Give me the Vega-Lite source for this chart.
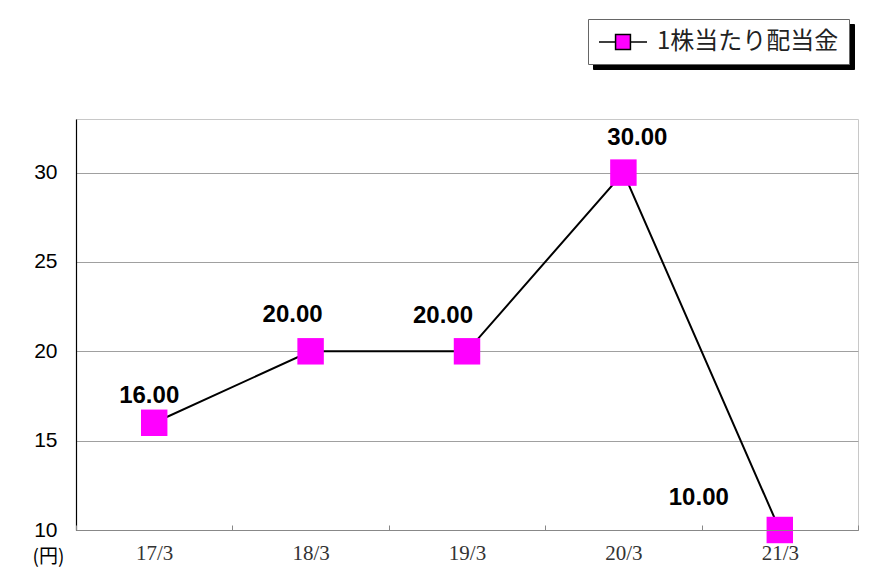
{
  "$schema": "https://vega.github.io/schema/vega-lite/v6.json",
  "width": 782,
  "height": 411,
  "autosize": "none",
  "padding": {"left": 76, "top": 119, "right": 21, "bottom": 42},
  "background": "white",
  "config": {
    "view": {"stroke": "#c8c8c8", "strokeWidth": 1},
    "font": "Liberation Sans"
  },
  "data": {
    "values": [
      {"year": "17/3", "value": 16, "label": "16.00", "series": "1株当たり配当金"},
      {"year": "18/3", "value": 20, "label": "20.00", "series": "1株当たり配当金"},
      {"year": "19/3", "value": 20, "label": "20.00", "series": "1株当たり配当金"},
      {"year": "20/3", "value": 30, "label": "30.00", "series": "1株当たり配当金"},
      {"year": "21/3", "value": 10, "label": "10.00", "series": "1株当たり配当金"}
    ]
  },
  "encoding": {
    "x": {
      "field": "year",
      "type": "ordinal",
      "sort": null,
      "scale": {"type": "band", "paddingInner": 0, "paddingOuter": 0},
      "axis": {
        "title": null,
        "labelAngle": 0,
        "labelFont": "Liberation Serif",
        "labelFontSize": 21,
        "labelColor": "#333333",
        "labelPadding": 17,
        "domainColor": "#888888",
        "domainWidth": 1,
        "ticks": true,
        "tickBand": "extent",
        "tickSize": -5,
        "tickColor": "#888888",
        "grid": false,
        "zindex": 1
      }
    },
    "y": {
      "field": "value",
      "type": "quantitative",
      "scale": {"domain": [10, 33], "nice": false, "zero": false},
      "axis": {
        "values": [10, 15, 20, 25, 30],
        "title": "(円)",
        "titleAngle": 0,
        "titleX": -28,
        "titleY": 437,
        "titleAlign": "center",
        "titleBaseline": "middle",
        "titleFont": "Noto Sans CJK JP",
        "titleFontSize": 19,
        "titleFontWeight": "normal",
        "titleColor": "black",
        "labelFont": "Liberation Sans",
        "labelFontSize": 21,
        "labelColor": "black",
        "labelPadding": 19,
        "ticks": false,
        "domainColor": "black",
        "domainWidth": 1.2,
        "grid": true,
        "gridColor": "#a0a0a0",
        "gridWidth": 1
      }
    }
  },
  "layer": [
    {
      "mark": {"type": "line", "color": "black", "strokeWidth": 2}
    },
    {
      "mark": {"type": "point", "shape": "square", "filled": true, "size": 700, "opacity": 1},
      "encoding": {
        "color": {
          "field": "series",
          "type": "nominal",
          "scale": {"range": ["#ff00ff"]},
          "legend": {
            "title": null,
            "orient": "none",
            "legendX": 512,
            "legendY": -100,
            "zindex": 2,
            "padding": 10,
            "fillColor": "white",
            "strokeColor": "#666666",
            "cornerRadius": 0,
            "symbolType": "M-1,0H0.38M1.62,0H3M0.38,-0.62H1.62V0.62H0.38Z",
            "symbolSize": 576,
            "symbolFillColor": "#ff00ff",
            "symbolStrokeColor": "black",
            "symbolStrokeWidth": 1.5,
            "labelFont": "Noto Sans CJK JP",
            "labelFontSize": 24,
            "labelColor": "#222222",
            "labelOffset": 33,
            "labelLimit": 400,
            "encode": {
              "symbols": {"update": {"fill": {"value": "#ff00ff"}, "stroke": {"value": "black"}, "strokeWidth": {"value": 1.5}, "size": {"value": 576}, "opacity": {"value": 1}}}
            }
          }
        }
      }
    },
    {
      "transform": [{"filter": "datum.year === '17/3'"}],
      "mark": {"type": "text", "font": "Liberation Sans", "fontWeight": "bold", "fontSize": 24, "align": "center", "baseline": "middle", "dx": -5, "dy": -27, "color": "black"},
      "encoding": {
        "text": {"field": "label"},
        "opacity": {
          "field": "year",
          "type": "ordinal",
          "scale": {"range": [1, 1]},
          "legend": {
            "title": null,
            "orient": "none",
            "legendX": 517,
            "legendY": -95,
            "zindex": 0,
            "padding": 10,
            "fillColor": "black",
            "strokeColor": "black",
            "cornerRadius": 0,
            "symbolType": "M-1,0H0.38M1.62,0H3M0.38,-0.62H1.62V0.62H0.38Z",
            "symbolSize": 576,
            "symbolFillColor": "black",
            "symbolStrokeColor": "black",
            "symbolStrokeWidth": 1.5,
            "labelFont": "Noto Sans CJK JP",
            "labelFontSize": 24,
            "labelColor": "black",
            "labelOffset": 33,
            "labelLimit": 400,
            "labelExpr": "'1株当たり配当金'",
            "encode": {
              "symbols": {"update": {"fill": {"value": "black"}, "stroke": {"value": "black"}, "strokeWidth": {"value": 1.5}, "size": {"value": 576}, "opacity": {"value": 1}}}
            }
          }
        }
      }
    },
    {
      "transform": [{"filter": "datum.year === '18/3'"}],
      "mark": {"type": "text", "font": "Liberation Sans", "fontWeight": "bold", "fontSize": 24, "align": "center", "baseline": "middle", "dx": -18, "dy": -36, "color": "black"},
      "encoding": {"text": {"field": "label"}}
    },
    {
      "transform": [{"filter": "datum.year === '19/3'"}],
      "mark": {"type": "text", "font": "Liberation Sans", "fontWeight": "bold", "fontSize": 24, "align": "center", "baseline": "middle", "dx": -24, "dy": -35, "color": "black"},
      "encoding": {"text": {"field": "label"}}
    },
    {
      "transform": [{"filter": "datum.year === '20/3'"}],
      "mark": {"type": "text", "font": "Liberation Sans", "fontWeight": "bold", "fontSize": 24, "align": "center", "baseline": "middle", "dx": 14, "dy": -35, "color": "black"},
      "encoding": {"text": {"field": "label"}}
    },
    {
      "transform": [{"filter": "datum.year === '21/3'"}],
      "mark": {"type": "text", "font": "Liberation Sans", "fontWeight": "bold", "fontSize": 24, "align": "center", "baseline": "middle", "dx": -81, "dy": -32, "color": "black"},
      "encoding": {"text": {"field": "label"}}
    }
  ]
}
